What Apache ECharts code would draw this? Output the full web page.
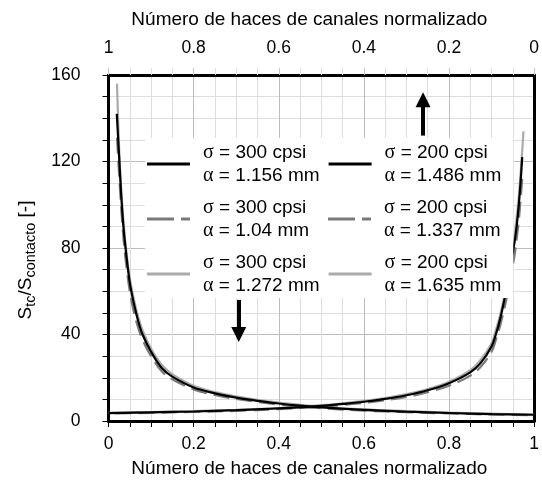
<!DOCTYPE html>
<html>
<head>
<meta charset="utf-8">
<script src="https://cdn.jsdelivr.net/npm/echarts@6/dist/echarts.min.js"></script>
<style>html,body{margin:0;padding:0;background:#fff;}#c{width:542px;height:484px;}</style>
</head>
<body>
<div id="c"></div>
<script>
// ---- data ----
const xTicks = ['0', '0.2', '0.4', '0.6', '0.8', '1'];
const xTitle = 'Número de haces de canales normalizado';
// 300 cpsi series: plotted on bottom axis (x)
const s300_a1156 = [[0.0195,142],[0.025,122],[0.03,104],[0.035,90],[0.04,80],[0.05,64],[0.06,54],[0.07,46],[0.08,40],[0.1,32],[0.125,24.5],[0.15,20.5],[0.2,15.5],[0.25,12.8],[0.3,10.8],[0.35,9.3],[0.4,8.1],[0.45,7.1],[0.5,6.3],[0.6,5.1],[0.7,4.3],[0.8,3.7],[0.9,3.2],[1,2.9]];
const s300_a104 = [[0.02,131],[0.025,114],[0.03,98],[0.035,85],[0.04,75],[0.05,60],[0.06,50],[0.07,43],[0.08,37.5],[0.1,30],[0.125,23],[0.15,19.3],[0.2,14.6],[0.25,12],[0.3,10.2],[0.35,8.8],[0.4,7.6],[0.45,6.7],[0.5,5.9],[0.6,4.8],[0.7,4.1],[0.8,3.5],[0.9,3.0],[1,2.7]];
const s300_a1272 = [[0.02,156],[0.025,126],[0.03,107],[0.035,93],[0.04,82],[0.05,66],[0.06,56],[0.07,48],[0.08,42],[0.1,33.5],[0.125,26],[0.15,21.7],[0.2,16.3],[0.25,13.4],[0.3,11.4],[0.35,9.8],[0.4,8.5],[0.45,7.5],[0.5,6.6],[0.6,5.4],[0.7,4.6],[0.8,3.9],[0.9,3.4],[1,3.0]];
// 200 cpsi series: plotted on top (reversed) axis
const s200_a1486 = [[0.028,122],[0.032,110],[0.036,100],[0.04,92],[0.045,84],[0.05,78],[0.055,72],[0.06,66],[0.07,56],[0.08,47],[0.09,40],[0.1,34.5],[0.125,27],[0.15,22.5],[0.2,17.5],[0.25,14.2],[0.3,11.9],[0.35,10.2],[0.4,8.9],[0.45,7.9],[0.5,7.0],[0.6,5.8],[0.7,5.0],[0.8,4.4],[0.9,4.0],[1,3.6]];
const s200_a1337 = [[0.028,112],[0.032,102],[0.036,93],[0.04,86],[0.045,78],[0.05,72],[0.055,66],[0.06,61],[0.07,52],[0.08,44],[0.09,37.5],[0.1,32],[0.125,25.2],[0.15,21],[0.2,16.3],[0.25,13.3],[0.3,11.1],[0.35,9.6],[0.4,8.4],[0.45,7.4],[0.5,6.6],[0.6,5.5],[0.7,4.7],[0.8,4.2],[0.9,3.8],[1,3.4]];
const s200_a1635 = [[0.025,134],[0.028,125],[0.032,114],[0.036,104],[0.04,96],[0.045,87],[0.05,80],[0.055,74],[0.06,68],[0.07,58],[0.08,49],[0.09,42],[0.1,36],[0.125,28.5],[0.15,23.5],[0.2,18.2],[0.25,14.8],[0.3,12.4],[0.35,10.6],[0.4,9.3],[0.45,8.2],[0.5,7.3],[0.6,6.0],[0.7,5.2],[0.8,4.6],[0.9,4.1],[1,3.8]];
const names = ['σ = 300 cpsi\nα = 1.156 mm','σ = 200 cpsi\nα = 1.486 mm','σ = 300 cpsi\nα = 1.04 mm','σ = 200 cpsi\nα = 1.337 mm','σ = 300 cpsi\nα = 1.272 mm','σ = 200 cpsi\nα = 1.635 mm'];
// arrows (data coords): [x, yStart, yEnd]
const arrowUp = [0.739, 132, 148.5];
const arrowDown = [0.306, 56, 40];

const FONT = "'Liberation Sans', Arial, sans-serif";
const BLACK = '#000000', DGRAY = '#7a7a7a', LGRAY = '#ababab';
const ICON_SOLID = 'path://M0,0h43v3h-43z';
const ICON_DASH = 'path://M0,0h27v3h-27zM34,0h9v3h-9z';

function line(name, data, axis, color, dash) {
  return {
    name: name, type: 'line', data: data, xAxisIndex: axis, yAxisIndex: 0,
    symbol: 'none', showSymbol: false, smooth: 0.35, silent: true,
    lineStyle: { color: color, width: 2.2, type: dash ? [16, 7] : 'solid' },
    itemStyle: { color: color }
  };
}
// drawing order: light gray, dashed, then black on top
const series = [
  line(names[4], s300_a1272, 0, LGRAY, false),
  line(names[5], s200_a1635, 1, LGRAY, false),
  line(names[2], s300_a104, 0, DGRAY, true),
  line(names[3], s200_a1337, 1, DGRAY, true),
  line(names[0], s300_a1156, 0, BLACK, false),
  line(names[1], s200_a1486, 1, BLACK, false)
];
series[4].markLine = {
  silent: true, symbol: ['none', 'triangle'], symbolSize: 15,
  label: { show: false },
  lineStyle: { color: '#000', width: 4, type: 'solid' },
  data: [
    [{ coord: [arrowUp[0], arrowUp[1]] }, { coord: [arrowUp[0], arrowUp[2]] }],
    [{ coord: [arrowDown[0], arrowDown[1]] }, { coord: [arrowDown[0], arrowDown[2]] }]
  ]
};

function fmt(n) {
  const p = n.split('\n');
  return '{g|' + p[0].charAt(0) + '}{t|' + p[0].slice(1) + '}\n{g|' + p[1].charAt(0) + '}{t|' + p[1].slice(1) + '}';
}
const legendColors = [BLACK, BLACK, DGRAY, DGRAY, LGRAY, LGRAY];
const option = {
  animation: false,
  backgroundColor: '#fff',
  grid: { left: 108.5, right: 1, top: 75, bottom: 63, containLabel: false },
  xAxis: [{
    type: 'value', position: 'bottom', min: 0, max: 1, interval: 0.2,
    name: xTitle, nameLocation: 'middle', nameGap: 38,
    nameTextStyle: { fontFamily: FONT, fontSize: 19, color: '#000', padding: [0, 24, 0, 0] },
    axisLine: { show: true, onZero: false, lineStyle: { color: '#000', width: 3 } },
    axisTick: { show: true, length: 6, lineStyle: { color: '#000', width: 1 } },
    minorTick: { show: true, splitNumber: 4, length: 6, lineStyle: { color: '#000', width: 1 } },
    axisLabel: { fontFamily: FONT, fontSize: 17.5, color: '#000', margin: 14,
      formatter: function (v) { return xTicks[Math.round(v / 0.2)]; } },
    splitLine: { show: true, lineStyle: { color: '#bdbdbd', width: 1 } },
    minorSplitLine: { show: true, lineStyle: { color: '#dddddd', width: 1 } }
  }, {
    type: 'value', position: 'top', inverse: true, min: 0, max: 1, interval: 0.2,
    name: xTitle, nameLocation: 'middle', nameGap: 46,
    nameTextStyle: { fontFamily: FONT, fontSize: 19, color: '#000', padding: [0, 24, 0, 0] },
    axisLine: { show: true, onZero: false, lineStyle: { color: '#000', width: 3 } },
    axisTick: { show: true, length: 7, lineStyle: { color: '#c4c4c4', width: 1 } },
    minorTick: { show: true, splitNumber: 4, length: 7, lineStyle: { color: '#dedede', width: 1 } },
    axisLabel: { fontFamily: FONT, fontSize: 17.5, color: '#000', margin: 18,
      formatter: function (v) { return xTicks[Math.round(v / 0.2)]; } },
    splitLine: { show: false }
  }],
  yAxis: [{
    type: 'value', position: 'left', min: 0, max: 160, interval: 40,
    name: '{a|S}{b|tc}{a|/S}{b|contacto}{a| [-]}', nameLocation: 'middle', nameGap: 70,
    nameTextStyle: { fontFamily: FONT, color: '#000', padding: [0, 24, 0, 0],
      rich: {
        a: { fontFamily: FONT, fontSize: 19, lineHeight: 26, verticalAlign: 'middle', color: '#000' },
        b: { fontFamily: FONT, fontSize: 14.5, lineHeight: 15, verticalAlign: 'bottom', color: '#000' }
      } },
    axisLine: { show: true, onZero: false, lineStyle: { color: '#000', width: 3 } },
    axisTick: { show: true, length: 6, lineStyle: { color: '#000', width: 1 } },
    minorTick: { show: true, splitNumber: 4, length: 6, lineStyle: { color: '#000', width: 1 } },
    axisLabel: { fontFamily: FONT, fontSize: 17.5, color: '#000', margin: 28 },
    splitLine: { show: true, lineStyle: { color: '#bdbdbd', width: 1 } },
    minorSplitLine: { show: true, lineStyle: { color: '#dddddd', width: 1 } }
  }, {
    type: 'value', position: 'right', min: 0, max: 160, interval: 40,
    axisLine: { show: true, onZero: false, lineStyle: { color: '#000', width: 3 } },
    axisTick: { show: false }, axisLabel: { show: false }, splitLine: { show: false }
  }],
  legend: {
    show: true, orient: 'horizontal', left: 145, top: 138, width: 356,
    padding: [3, 12, 1, 2], itemGap: 9, itemWidth: 43, itemHeight: 3,
    backgroundColor: '#ffffff', borderWidth: 0,
    selectedMode: false,
    data: names.map(function (n, i) {
      return { name: n, icon: (i === 2 || i === 3) ? ICON_DASH : ICON_SOLID,
        itemStyle: { color: legendColors[i], borderWidth: 0 } };
    }),
    formatter: fmt,
    textStyle: {
      fontFamily: FONT, fontSize: 19, color: '#000', width: 116, overflow: 'none',
      lineHeight: 23, padding: [0, 0, 0, 8],
      rich: {
        g: { fontFamily: "'Liberation Serif', serif", fontSize: 20, lineHeight: 23, color: '#000' },
        t: { fontFamily: FONT, fontSize: 19, lineHeight: 23, color: '#000' }
      }
    }
  },
  series: series
};
const chart = echarts.init(document.getElementById('c'), null, { renderer: 'canvas' });
chart.setOption(option);
</script>
</body>
</html>
